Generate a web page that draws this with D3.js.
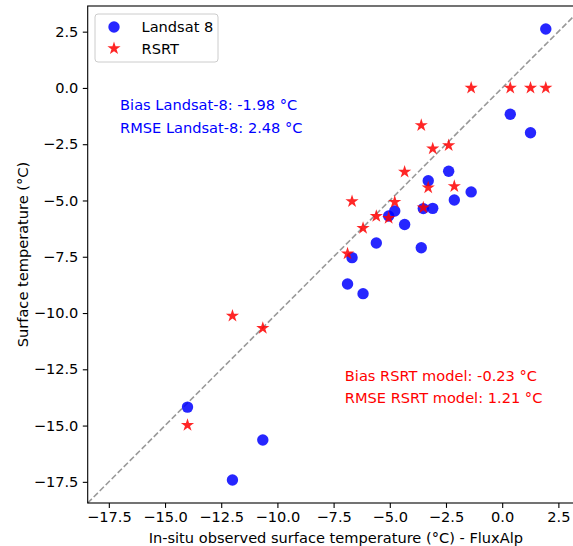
<!DOCTYPE html>
<html>
<head>
<meta charset="utf-8">
<script src="https://cdn.jsdelivr.net/npm/d3@7"></script>
<style>
	body { margin: 0; background: #fff; }
	svg { display: block; font-family: 'DejaVu Sans', sans-serif; }
</style>
</head>
<body>
<svg id="chart" width="573" height="546"></svg>
<script>

// in-situ observed temperature (FluxAlp), shared by both series
var aInSitu  = [-14.0, -12.0, -10.65, -6.88, -6.68, -6.19, -5.6, -5.05, -4.78, -4.34, -3.6, -3.51, -3.29, -3.09, -2.38, -2.13, -1.38, 0.36, 1.26, 1.94];
var aLandsat = [-14.18, -17.42, -15.64, -8.71, -7.54, -9.14, -6.89, -5.69, -5.47, -6.07, -7.10, -5.36, -4.12, -5.35, -3.70, -4.98, -4.62, -1.17, -1.99, 2.62];
var aRsrt    = [-14.98, -10.13, -10.67, -7.36, -5.04, -6.23, -5.70, -5.78, -5.07, -3.73, -1.66, -5.32, -4.43, -2.70, -2.55, -4.37, 0.0, 0.0, 0.0, 0.0];

var aTicks = [-17.5, -15.0, -12.5, -10.0, -7.5, -5.0, -2.5, 0.0, 2.5];
var aLimits = [-18.44, 3.64];

var aLegend = ['Landsat 8', 'RSRT'];
var aNotesLandsat = ['Bias Landsat-8: -1.98 °C', 'RMSE Landsat-8: 2.48 °C'];
var aNotesRsrt = ['Bias RSRT model: -0.23 °C', 'RMSE RSRT model: 1.21 °C'];
// anchor of each note block in data units (x, baseline y of first line)
var aNotesLandsatPos = [-17.0, -1.0];
var aNotesRsrtPos = [-7.0, -13.0];

var strXLabel = 'In-situ observed surface temperature (°C) - FluxAlp';
var strYLabel = 'Surface temperature (°C)';

const nFontSize = 14.6;
const strBlue = '#0000ff';
const strRed = '#ff0000';
const fAlpha = 0.85;

var sSvg = d3.select('#chart');

// axes box; right side runs past the picture edge like in the original crop
var nLeft = 87.7, nTop = 6, nRight = 584, nBottom = 503;

var xScale = d3.scaleLinear().domain(aLimits).range([nLeft, nRight]);
var yScale = d3.scaleLinear().domain(aLimits).range([nBottom, nTop]);

function FormatTick(v)
{
	return d3.format('.1f')(v).replace('-', '\u2212');
}

// 1:1 line
sSvg.append('line')
	.attr('x1', xScale(aLimits[0]))
	.attr('y1', yScale(aLimits[0]))
	.attr('x2', xScale(aLimits[1]))
	.attr('y2', yScale(aLimits[1]))
	.style('stroke', '#999999')
	.style('stroke-width', 1.6)
	.style('stroke-dasharray', '5.9,2.6');

var aPoints = aInSitu.map(function(x, i) { return {x: x, landsat: aLandsat[i], rsrt: aRsrt[i]}; });

sSvg.append('g')
	.selectAll('circle')
	.data(aPoints)
	.enter()
		.append('circle')
		.attr('cx', function(d) { return xScale(d.x); })
		.attr('cy', function(d) { return yScale(d.landsat); })
		.attr('r', 5.7)
		.style('fill', strBlue)
		.style('fill-opacity', fAlpha);

var symStar = d3.symbol().type(d3.symbolStar).size(54);

sSvg.append('g')
	.selectAll('path')
	.data(aPoints)
	.enter()
		.append('path')
		.attr('d', symStar)
		.attr('transform', function(d) { return 'translate(' + xScale(d.x) + ',' + yScale(d.rsrt) + ')'; })
		.style('fill', strRed)
		.style('fill-opacity', fAlpha);

// frame (left, bottom, top; right one falls outside the picture)
sSvg.append('rect')
	.attr('x', nLeft)
	.attr('y', nTop)
	.attr('width', nRight - nLeft)
	.attr('height', nBottom - nTop)
	.style('fill', 'none')
	.style('stroke', '#000')
	.style('stroke-width', 1.1);

var sXAxis = sSvg.append('g')
	.attr('transform', 'translate(0,' + nBottom + ')')
	.call(d3.axisBottom(xScale).tickValues(aTicks).tickFormat(FormatTick).tickSize(4.9).tickPadding(4.2));

var sYAxis = sSvg.append('g')
	.attr('transform', 'translate(' + nLeft + ',0)')
	.call(d3.axisLeft(yScale).tickValues(aTicks).tickFormat(FormatTick).tickSize(4.9).tickPadding(4.4));

[sXAxis, sYAxis].forEach(function(sAxis)
{
	sAxis.select('.domain').remove();
	sAxis.selectAll('.tick line').style('stroke', '#000').style('stroke-width', 1.1);
	sAxis.selectAll('.tick text')
		.style('font-family', "'DejaVu Sans', sans-serif")
		.style('font-size', nFontSize + 'px')
		.style('fill', '#000');
});

sSvg.append('text')
	.attr('x', (nLeft + nRight) / 2)
	.attr('y', 542.5)
	.attr('text-anchor', 'middle')
	.style('font-size', nFontSize + 'px')
	.text(strXLabel);

sSvg.append('text')
	.attr('transform', 'translate(28,' + ((nTop + nBottom) / 2) + ') rotate(-90)')
	.attr('text-anchor', 'middle')
	.style('font-size', nFontSize + 'px')
	.text(strYLabel);

// statistics notes
function DrawNotes(aLines, aPos, strColor)
{
	aLines.forEach(function(strLine, i)
	{
		sSvg.append('text')
			.attr('x', xScale(aPos[0]))
			.attr('y', yScale(aPos[1] - i))
			.style('font-size', nFontSize + 'px')
			.style('fill', strColor)
			.text(strLine);
	});
}
DrawNotes(aNotesLandsat, aNotesLandsatPos, strBlue);
DrawNotes(aNotesRsrt, aNotesRsrtPos, strRed);

// legend
var sLegend = sSvg.append('g');
sLegend.append('rect')
	.attr('x', 95)
	.attr('y', 14)
	.attr('width', 123)
	.attr('height', 48)
	.attr('rx', 3)
	.style('fill', '#fff')
	.style('fill-opacity', 0.8)
	.style('stroke', '#cccccc')
	.style('stroke-width', 1);

aLegend.forEach(function(strName, i)
{
	var nY = 27 + i * 21.5;
	if (i == 0)
	{
		sLegend.append('circle')
			.attr('cx', 114).attr('cy', nY).attr('r', 5.7)
			.style('fill', strBlue).style('fill-opacity', fAlpha);
	}
	else
	{
		sLegend.append('path')
			.attr('d', symStar)
			.attr('transform', 'translate(114,' + nY + ')')
			.style('fill', strRed).style('fill-opacity', fAlpha);
	}
	sLegend.append('text')
		.attr('x', 141.5)
		.attr('y', nY + 5)
		.style('font-size', nFontSize + 'px')
		.text(strName);
});

</script>
</body>
</html>
